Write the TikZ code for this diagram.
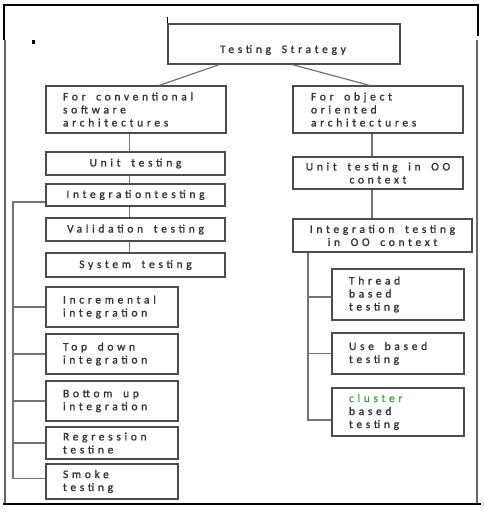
\documentclass[tikz,border=0pt]{standalone}
\usepackage{fontspec}
\setmainfont{Carlito}[LetterSpace=32,WordSpace=1.7,FakeBold=1.2]
\hyphenpenalty=10000
\exhyphenpenalty=10000
\begin{document}
\begin{tikzpicture}[x=1pt,y=-1pt,
  box/.style={draw=black!70, line width=1.3pt, fill=white, inner xsep=0pt, inner ysep=0pt,
    font=\fontsize{11.5}{13}\selectfont, text=black!80,
    execute at begin node={\spaceskip=\fontdimen2\font plus 1pt\relax}},
  lbox/.style={box, align=left},
  cbox/.style={box, align=center},
  conn/.style={draw=black!55, line width=1.2pt},
  frame/.style={draw=black, line width=1.6pt},
  gframe/.style={draw=black!60, line width=2.6pt}]
\useasboundingbox (0,0) rectangle (483,521);
% outer frame
\draw[frame] (4,40) -- (4,5) -- (478,5) -- (478,36);
\draw[gframe] (5,40) -- (5,503);
\draw[gframe] (477,40) -- (477,503);
\draw[frame] (3,504) -- (481,504);
\fill[black] (31.5,40) rectangle (34.5,44.5);
% top box
\node[box, minimum width=232pt, minimum height=40pt] (ts) at (284,44) {};
\node[font=\fontsize{11.5}{13}\selectfont, text=black!80] (tst) at (283,50) {Testing Strategy};
\draw[frame, line width=1.4pt] ([yshift=6pt]ts.north west) -- (ts.north west);
% left column
\node[lbox, minimum width=180pt, minimum height=47pt, text width=146pt] (conv) at (136,109.5) {For conventional\\software\\architectures};
\node[cbox, minimum width=179pt, minimum height=23pt] (ut) at (135.5,163.5) {Unit testing};
\node[cbox, minimum width=179pt, minimum height=22pt] (it) at (135.5,195) {Integrationtesting};
\node[cbox, minimum width=179pt, minimum height=23pt] (vt) at (135.5,229.5) {Validation testing};
\node[cbox, minimum width=179pt, minimum height=24pt] (st) at (135.5,265) {System testing};
\node[lbox, minimum width=132pt, minimum height=40pt, text width=98pt] (inc) at (112,307) {Incremental\\integration};
\node[lbox, minimum width=132pt, minimum height=40pt, text width=98pt] (td) at (112,354) {Top down\\integration};
\node[lbox, minimum width=132pt, minimum height=40pt, text width=98pt] (bu) at (112,401) {Bottom up\\integration};
\node[lbox, minimum width=132pt, minimum height=32pt, text width=98pt] (rg) at (112,443) {Regression\\testine};
\node[lbox, minimum width=132pt, minimum height=35pt, text width=98pt] (sm) at (112,481.5) {Smoke\\testing};
% right column
\node[lbox, minimum width=170pt, minimum height=47pt, text width=134pt] (oo) at (378,109.5) {For object\\oriented\\architectures};
\node[cbox, minimum width=170pt, minimum height=32pt] (uo) at (378,173) {Unit testing in OO\\context};
\node[cbox, minimum width=179pt, minimum height=33pt] (io) at (382.5,235.5) {Integration testing\\in OO context};
\node[lbox, minimum width=132pt, minimum height=51pt, text width=98pt] (th) at (398,294.5) {Thread\\based\\testing};
\node[lbox, minimum width=132pt, minimum height=41pt, text width=98pt] (ub) at (398,353.5) {Use based\\testing};
\node[lbox, minimum width=132pt, minimum height=48pt, text width=98pt] (cl) at (398,412) {\textcolor{green!45!black!70}{cluster}\\based\\testing};
% connectors top
\draw[conn] ([xshift=52pt]ts.south west) -- ([xshift=114pt]conv.north west);
\draw[conn] ([xshift=125pt]ts.south west) -- ([xshift=77pt]oo.north west);
% left chain
\draw[conn] ([xshift=-6pt]ut.north) -- ([xshift=-6pt]ut.north |- conv.south);
\draw[conn] ([xshift=-6pt]it.north) -- ([xshift=-6pt]it.north |- ut.south);
\draw[conn] ([xshift=-6pt]vt.north) -- ([xshift=-6pt]vt.north |- it.south);
\draw[conn] ([xshift=-6pt]st.north) -- ([xshift=-6pt]st.north |- vt.south);
% left bracket
\coordinate (lb) at (13,0);
\draw[conn] ([yshift=-7pt]it.west) -- ([yshift=-7pt]it.west -| lb) -- ([yshift=3pt]sm.west -| lb) -- ([yshift=3pt]sm.west);
\draw[conn] (inc.west -| lb) -- (inc.west);
\draw[conn] (td.west -| lb) -- (td.west);
\draw[conn] (bu.west -| lb) -- (bu.west);
\draw[conn] (rg.west -| lb) -- (rg.west);
% right chain
\draw[conn] ([xshift=-6pt]uo.north) -- ([xshift=-6pt]uo.north |- oo.south);
\draw[conn] ([xshift=-6pt]uo.south) -- ([xshift=-6pt]uo.south |- io.north);
% right bracket
\coordinate (rb) at (308,0);
\draw[conn] (io.south -| rb) -- ([yshift=-8pt]cl.west -| rb) -- ([yshift=-8pt]cl.west);
\draw[conn] ([yshift=-2.5pt]th.west -| rb) -- ([yshift=-2.5pt]th.west);
\draw[conn] (ub.west -| rb) -- (ub.west);
\end{tikzpicture}
\end{document}
